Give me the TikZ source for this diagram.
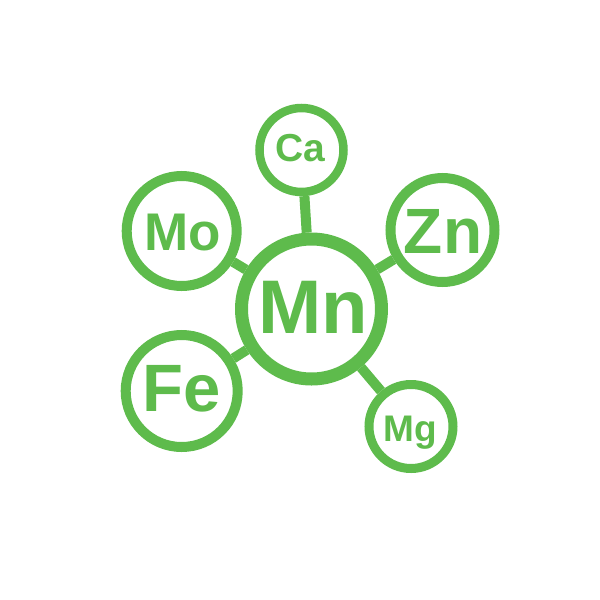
\documentclass[tikz,border=0pt]{standalone}
\usepackage{fontspec}
\setmainfont{Liberation Sans}
\definecolor{leaf}{RGB}{94,187,76}
\begin{document}
\begin{tikzpicture}[x=1pt,y=-1pt,
  ring/.style={circle,draw=leaf,fill=white,inner sep=0pt,line width=#1},
  ring/.default=10pt,
  elem/.style={text=leaf,inner sep=0pt,anchor=base,font=\bfseries\fontsize{#1}{#1}\selectfont},
  link/.style={draw=leaf,line width=10pt}]
\useasboundingbox (0,0) rectangle (600,600);
\node[ring=13pt,minimum size=140pt] (mn) at (311.5,309) {};
\node[ring=8.5pt,minimum size=84pt] (ca) at (301.5,150) {};
\node[ring,minimum size=110pt] (mo) at (181.7,231) {};
\node[ring,minimum size=104pt] (zn) at (442.5,230) {};
\node[ring,minimum size=112pt] (fe) at (181.7,391) {};
\node[ring=9pt,minimum size=84pt] (mg) at (411,426.5) {};
\draw[link] (ca) -- (mn);
\draw[link] (mo) -- (mn);
\draw[link] (zn) -- (mn);
\draw[link] (fe) -- (mn);
\draw[link] (mg) -- (mn);
\node[elem=76] (tmn) at (313,333) {Mn};
\node[elem=39] (tca) at (300,161.5) {Ca};
\node[elem=53] (tmo) at (182.5,250) {Mo};
\node[elem=64] (tzn) at (443,253) {Zn};
\node[elem=67] (tfe) at (181.7,411.5) {Fe};
\node[elem=37] (tmg) at (410,441.5) {Mg};
\end{tikzpicture}
\end{document}
